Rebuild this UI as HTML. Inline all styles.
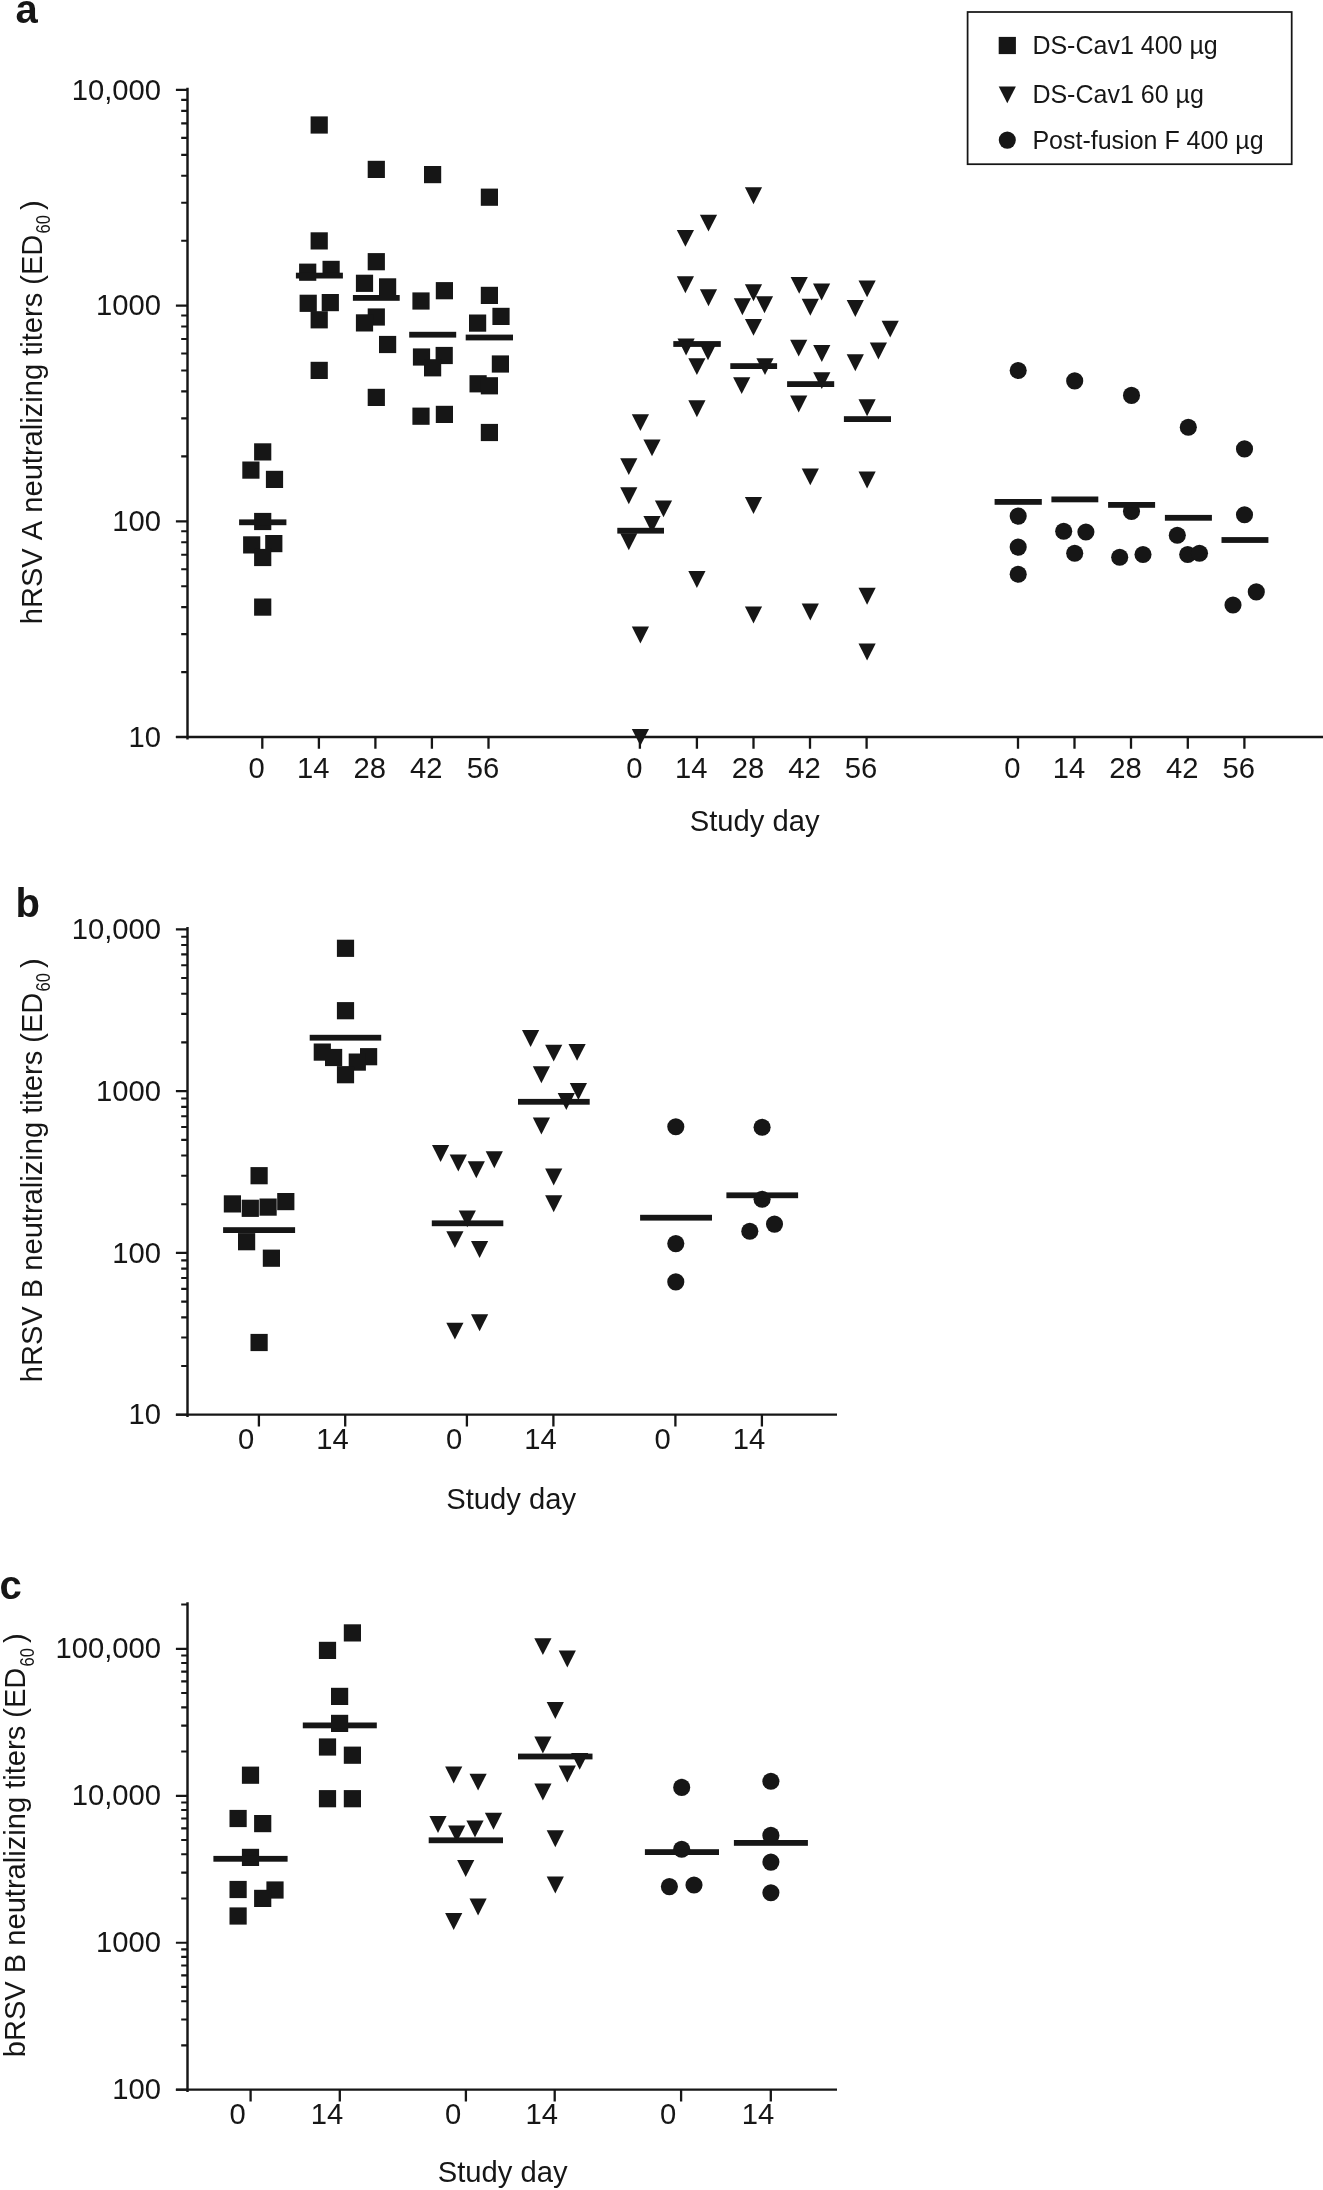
<!DOCTYPE html>
<html lang="en"><head><meta charset="utf-8"><title>Neutralizing titers</title>
<style>html,body{margin:0;padding:0;background:#fff}svg{display:block;will-change:transform;filter:grayscale(1)}text{white-space:pre}</style>
</head><body>
<svg width="1323" height="2190" viewBox="0 0 1323 2190">
<rect width="1323" height="2190" fill="#fff"/>
<g fill="#161616" font-family='"Liberation Sans", sans-serif' style="font-kerning:none">
<text x="15.5" y="23" font-size="40" font-weight="bold">a</text>
<text x="15.5" y="916.7" font-size="40" font-weight="bold">b</text>
<text x="-0.6" y="1599.2" font-size="40" font-weight="bold">c</text>
<rect x="967.6" y="12" width="324.1" height="152.2" fill="none" stroke="#161616" stroke-width="1.75"/>
<rect x="998.7" y="36.9" width="17.2" height="17.2"/>
<path d="M998.7 86.4H1015.9L1007.3 103.3Z"/>
<circle cx="1007.3" cy="140.1" r="8.55"/>
<text x="1032.4" y="53.9" font-size="25">DS-Cav1 400 µg</text>
<text x="1032.4" y="103.1" font-size="25">DS-Cav1 60 µg</text>
<text x="1032.4" y="148.5" font-size="25">Post-fusion F 400 µg</text>
<path d="M187.5 87.7V739.4" stroke="#161616" stroke-width="2.45" fill="none"/>
<path d="M175.9 89.9H187.5M181.2 240.7H187.5M181.2 202.7H187.5M181.2 175.7H187.5M181.2 154.8H187.5M181.2 137.8H187.5M181.2 123.3H187.5M181.2 110.8H187.5M181.2 99.8H187.5M175.9 305.6H187.5M181.2 456.4H187.5M181.2 418.4H187.5M181.2 391.4H187.5M181.2 370.5H187.5M181.2 353.5H187.5M181.2 339.0H187.5M181.2 326.5H187.5M181.2 315.5H187.5M175.9 521.3H187.5M181.2 672.1H187.5M181.2 634.1H187.5M181.2 607.1H187.5M181.2 586.2H187.5M181.2 569.2H187.5M181.2 554.7H187.5M181.2 542.2H187.5M181.2 531.2H187.5M175.9 737.0H187.5" stroke="#161616" stroke-width="2.15" fill="none"/>
<text x="161.0" y="99.5" text-anchor="end" font-size="29.2">10,000</text>
<text x="161.0" y="315.2" text-anchor="end" font-size="29.2">1000</text>
<text x="161.0" y="530.9" text-anchor="end" font-size="29.2">100</text>
<text x="161.0" y="746.6" text-anchor="end" font-size="29.2">10</text>
<path d="M175.9 737.0H1323" stroke="#161616" stroke-width="2.3" fill="none"/>
<path d="M262.3 737.0V748.8M318.9 737.0V748.8M375.4 737.0V748.8M431.9 737.0V748.8M488.5 737.0V748.8M639.9 737.0V748.8M696.9 737.0V748.8M753.5 737.0V748.8M810.0 737.0V748.8M866.6 737.0V748.8M1018.0 737.0V748.8M1074.5 737.0V748.8M1131.0 737.0V748.8M1187.8 737.0V748.8M1244.4 737.0V748.8" stroke="#161616" stroke-width="2.3" fill="none"/>
<text x="256.7" y="778.0" text-anchor="middle" font-size="29.2">0</text>
<text x="313.3" y="778.0" text-anchor="middle" font-size="29.2">14</text>
<text x="369.8" y="778.0" text-anchor="middle" font-size="29.2">28</text>
<text x="426.3" y="778.0" text-anchor="middle" font-size="29.2">42</text>
<text x="482.9" y="778.0" text-anchor="middle" font-size="29.2">56</text>
<text x="634.3" y="778.0" text-anchor="middle" font-size="29.2">0</text>
<text x="691.3" y="778.0" text-anchor="middle" font-size="29.2">14</text>
<text x="747.9" y="778.0" text-anchor="middle" font-size="29.2">28</text>
<text x="804.4" y="778.0" text-anchor="middle" font-size="29.2">42</text>
<text x="861.0" y="778.0" text-anchor="middle" font-size="29.2">56</text>
<text x="1012.4" y="778.0" text-anchor="middle" font-size="29.2">0</text>
<text x="1068.9" y="778.0" text-anchor="middle" font-size="29.2">14</text>
<text x="1125.4" y="778.0" text-anchor="middle" font-size="29.2">28</text>
<text x="1182.2" y="778.0" text-anchor="middle" font-size="29.2">42</text>
<text x="1238.8" y="778.0" text-anchor="middle" font-size="29.2">56</text>
<text x="754.6" y="830.8" text-anchor="middle" font-size="29.2">Study day</text>
<g transform="translate(41.6,624.3) rotate(-90)"><text x="0" y="0" font-size="29.1">hRSV A neutralizing titers (ED<tspan font-size="20.5" dx="1" dy="8.3" textLength="18.5" lengthAdjust="spacingAndGlyphs">60</tspan><tspan dx="5.2" dy="-8.3">)</tspan></text></g>
<rect x="254.1" y="443.3" width="17.2" height="17.2"/>
<rect x="242.3" y="461.5" width="17.2" height="17.2"/>
<rect x="265.9" y="470.8" width="17.2" height="17.2"/>
<rect x="254.1" y="512.9" width="17.2" height="17.2"/>
<rect x="243.1" y="536.3" width="17.2" height="17.2"/>
<rect x="265.2" y="535.0" width="17.2" height="17.2"/>
<rect x="254.1" y="548.9" width="17.2" height="17.2"/>
<rect x="254.1" y="598.5" width="17.2" height="17.2"/>
<rect x="310.6" y="116.4" width="17.2" height="17.2"/>
<rect x="310.6" y="232.3" width="17.2" height="17.2"/>
<rect x="299.1" y="263.6" width="17.2" height="17.2"/>
<rect x="322.5" y="260.8" width="17.2" height="17.2"/>
<rect x="299.6" y="294.7" width="17.2" height="17.2"/>
<rect x="321.7" y="294.0" width="17.2" height="17.2"/>
<rect x="310.6" y="311.2" width="17.2" height="17.2"/>
<rect x="310.6" y="361.8" width="17.2" height="17.2"/>
<rect x="367.7" y="160.8" width="17.2" height="17.2"/>
<rect x="367.7" y="253.1" width="17.2" height="17.2"/>
<rect x="355.9" y="274.7" width="17.2" height="17.2"/>
<rect x="379.0" y="278.3" width="17.2" height="17.2"/>
<rect x="367.7" y="308.4" width="17.2" height="17.2"/>
<rect x="355.9" y="314.3" width="17.2" height="17.2"/>
<rect x="379.0" y="335.9" width="17.2" height="17.2"/>
<rect x="367.7" y="388.8" width="17.2" height="17.2"/>
<rect x="424.0" y="166.0" width="17.2" height="17.2"/>
<rect x="435.8" y="282.1" width="17.2" height="17.2"/>
<rect x="412.4" y="292.4" width="17.2" height="17.2"/>
<rect x="412.9" y="348.4" width="17.2" height="17.2"/>
<rect x="435.6" y="346.9" width="17.2" height="17.2"/>
<rect x="424.0" y="359.2" width="17.2" height="17.2"/>
<rect x="412.4" y="407.6" width="17.2" height="17.2"/>
<rect x="435.8" y="405.8" width="17.2" height="17.2"/>
<rect x="480.8" y="188.6" width="17.2" height="17.2"/>
<rect x="480.8" y="286.8" width="17.2" height="17.2"/>
<rect x="492.4" y="307.8" width="17.2" height="17.2"/>
<rect x="469.0" y="314.5" width="17.2" height="17.2"/>
<rect x="491.8" y="355.4" width="17.2" height="17.2"/>
<rect x="469.5" y="375.2" width="17.2" height="17.2"/>
<rect x="480.8" y="377.2" width="17.2" height="17.2"/>
<rect x="480.8" y="423.9" width="17.2" height="17.2"/>
<rect x="239.1" y="519.4" width="47.3" height="5.8"/>
<rect x="295.9" y="272.7" width="47.0" height="5.8"/>
<rect x="352.9" y="295.0" width="46.8" height="5.8"/>
<rect x="409.2" y="331.8" width="47.0" height="5.8"/>
<rect x="465.7" y="334.6" width="47.3" height="5.8"/>
<path d="M631.8 414.2H649.0L640.4 431.1Z"/>
<path d="M643.4 439.4H660.6L652.0 456.3Z"/>
<path d="M620.2 458.2H637.4L628.8 475.1Z"/>
<path d="M620.2 487.3H637.4L628.8 504.2Z"/>
<path d="M654.9 500.4H672.1L663.5 517.3Z"/>
<path d="M643.4 516.1H660.6L652.0 533.0Z"/>
<path d="M620.2 533.3H637.4L628.8 550.2Z"/>
<path d="M631.8 626.6H649.0L640.4 643.5Z"/>
<path d="M631.8 728.9H649.0L640.4 745.8Z"/>
<path d="M699.9 214.7H717.1L708.5 231.6Z"/>
<path d="M676.8 229.9H694.0L685.4 246.8Z"/>
<path d="M676.8 276.3H694.0L685.4 293.2Z"/>
<path d="M699.9 289.3H717.1L708.5 306.2Z"/>
<path d="M677.5 338.6H694.7L686.1 355.5Z"/>
<path d="M699.4 343.3H716.6L708.0 360.2Z"/>
<path d="M688.3 358.2H705.5L696.9 375.1Z"/>
<path d="M688.3 400.3H705.5L696.9 417.2Z"/>
<path d="M688.3 571.1H705.5L696.9 588.0Z"/>
<path d="M744.9 187.3H762.1L753.5 204.2Z"/>
<path d="M744.9 284.3H762.1L753.5 301.2Z"/>
<path d="M733.8 298.3H751.0L742.4 315.2Z"/>
<path d="M755.9 296.3H773.1L764.5 313.2Z"/>
<path d="M744.9 318.9H762.1L753.5 335.8Z"/>
<path d="M756.4 358.2H773.6L765.0 375.1Z"/>
<path d="M733.1 377.2H750.3L741.7 394.1Z"/>
<path d="M744.9 497.1H762.1L753.5 514.0Z"/>
<path d="M744.9 606.5H762.1L753.5 623.4Z"/>
<path d="M790.6 276.9H807.8L799.2 293.8Z"/>
<path d="M813.0 283.6H830.2L821.6 300.5Z"/>
<path d="M801.7 298.8H818.9L810.3 315.7Z"/>
<path d="M790.1 339.7H807.3L798.7 356.6Z"/>
<path d="M813.2 345.0H830.4L821.8 361.9Z"/>
<path d="M813.2 372.2H830.4L821.8 389.1Z"/>
<path d="M790.1 395.5H807.3L798.7 412.4Z"/>
<path d="M801.7 468.4H818.9L810.3 485.3Z"/>
<path d="M801.7 603.6H818.9L810.3 620.5Z"/>
<path d="M858.5 280.4H875.7L867.1 297.3Z"/>
<path d="M846.7 300.0H863.9L855.3 316.9Z"/>
<path d="M881.6 320.7H898.8L890.2 337.6Z"/>
<path d="M869.8 342.5H887.0L878.4 359.4Z"/>
<path d="M846.7 354.3H863.9L855.3 371.2Z"/>
<path d="M858.5 399.3H875.7L867.1 416.2Z"/>
<path d="M858.5 471.6H875.7L867.1 488.5Z"/>
<path d="M858.5 587.8H875.7L867.1 604.7Z"/>
<path d="M858.5 643.6H875.7L867.1 660.5Z"/>
<rect x="617.3" y="527.8" width="46.7" height="5.8"/>
<rect x="673.3" y="341.1" width="47.5" height="5.8"/>
<rect x="730.3" y="363.2" width="46.8" height="5.8"/>
<rect x="787.1" y="381.2" width="47.1" height="5.8"/>
<rect x="843.9" y="416.2" width="47.1" height="5.8"/>
<circle cx="1018.2" cy="370.5" r="8.55"/>
<circle cx="1018.2" cy="516.1" r="8.55"/>
<circle cx="1018.2" cy="547.1" r="8.55"/>
<circle cx="1018.2" cy="574.3" r="8.55"/>
<circle cx="1074.7" cy="380.9" r="8.55"/>
<circle cx="1063.7" cy="531.2" r="8.55"/>
<circle cx="1085.9" cy="532.0" r="8.55"/>
<circle cx="1074.7" cy="553.2" r="8.55"/>
<circle cx="1131.5" cy="395.4" r="8.55"/>
<circle cx="1131.5" cy="511.5" r="8.55"/>
<circle cx="1119.7" cy="557.3" r="8.55"/>
<circle cx="1143.0" cy="554.5" r="8.55"/>
<circle cx="1188.3" cy="427.2" r="8.55"/>
<circle cx="1177.3" cy="535.3" r="8.55"/>
<circle cx="1187.7" cy="554.5" r="8.55"/>
<circle cx="1199.5" cy="553.2" r="8.55"/>
<circle cx="1244.5" cy="448.9" r="8.55"/>
<circle cx="1244.5" cy="514.8" r="8.55"/>
<circle cx="1256.3" cy="591.9" r="8.55"/>
<circle cx="1233.0" cy="605.0" r="8.55"/>
<rect x="994.6" y="499.0" width="47.2" height="5.8"/>
<rect x="1051.4" y="496.5" width="46.9" height="5.8"/>
<rect x="1108.1" y="502.0" width="47.0" height="5.8"/>
<rect x="1164.9" y="514.9" width="47.0" height="5.8"/>
<rect x="1221.5" y="537.1" width="46.9" height="5.8"/>
<path d="M187.5 927.1V1417.1" stroke="#161616" stroke-width="2.45" fill="none"/>
<path d="M175.9 929.3H187.5M181.2 1042.4H187.5M181.2 1013.9H187.5M181.2 993.7H187.5M181.2 978.0H187.5M181.2 965.2H187.5M181.2 954.4H187.5M181.2 945.0H187.5M181.2 936.7H187.5M175.9 1091.1H187.5M181.2 1204.2H187.5M181.2 1175.7H187.5M181.2 1155.5H187.5M181.2 1139.8H187.5M181.2 1127.0H187.5M181.2 1116.2H187.5M181.2 1106.8H187.5M181.2 1098.5H187.5M175.9 1252.9H187.5M181.2 1366.0H187.5M181.2 1337.5H187.5M181.2 1317.3H187.5M181.2 1301.6H187.5M181.2 1288.8H187.5M181.2 1278.0H187.5M181.2 1268.6H187.5M181.2 1260.3H187.5M175.9 1414.7H187.5" stroke="#161616" stroke-width="2.15" fill="none"/>
<text x="161.0" y="938.9" text-anchor="end" font-size="29.2">10,000</text>
<text x="161.0" y="1100.7" text-anchor="end" font-size="29.2">1000</text>
<text x="161.0" y="1262.5" text-anchor="end" font-size="29.2">100</text>
<text x="161.0" y="1424.3" text-anchor="end" font-size="29.2">10</text>
<path d="M175.9 1414.6H837" stroke="#161616" stroke-width="2.3" fill="none"/>
<path d="M258.9 1414.6V1426.4M345.2 1414.6V1426.4M466.9 1414.6V1426.4M553.4 1414.6V1426.4M675.4 1414.6V1426.4M761.9 1414.6V1426.4" stroke="#161616" stroke-width="2.3" fill="none"/>
<text x="246.1" y="1448.8" text-anchor="middle" font-size="29.2">0</text>
<text x="332.4" y="1448.8" text-anchor="middle" font-size="29.2">14</text>
<text x="454.1" y="1448.8" text-anchor="middle" font-size="29.2">0</text>
<text x="540.6" y="1448.8" text-anchor="middle" font-size="29.2">14</text>
<text x="662.6" y="1448.8" text-anchor="middle" font-size="29.2">0</text>
<text x="749.1" y="1448.8" text-anchor="middle" font-size="29.2">14</text>
<text x="511.2" y="1508.6" text-anchor="middle" font-size="29.2">Study day</text>
<g transform="translate(41.6,1382.3) rotate(-90)"><text x="0" y="0" font-size="29.1">hRSV B neutralizing titers (ED<tspan font-size="20.5" dx="1" dy="8.3" textLength="18.5" lengthAdjust="spacingAndGlyphs">60</tspan><tspan dx="5.2" dy="-8.3">)</tspan></text></g>
<rect x="250.5" y="1167.1" width="17.2" height="17.2"/>
<rect x="223.8" y="1195.3" width="17.2" height="17.2"/>
<rect x="241.7" y="1199.7" width="17.2" height="17.2"/>
<rect x="259.5" y="1198.5" width="17.2" height="17.2"/>
<rect x="277.2" y="1193.0" width="17.2" height="17.2"/>
<rect x="238.0" y="1233.1" width="17.2" height="17.2"/>
<rect x="262.8" y="1249.6" width="17.2" height="17.2"/>
<rect x="250.5" y="1333.9" width="17.2" height="17.2"/>
<rect x="336.9" y="939.7" width="17.2" height="17.2"/>
<rect x="336.9" y="1002.1" width="17.2" height="17.2"/>
<rect x="313.7" y="1043.5" width="17.2" height="17.2"/>
<rect x="325.0" y="1048.9" width="17.2" height="17.2"/>
<rect x="360.0" y="1048.1" width="17.2" height="17.2"/>
<rect x="348.7" y="1053.5" width="17.2" height="17.2"/>
<rect x="336.9" y="1066.1" width="17.2" height="17.2"/>
<rect x="223.1" y="1227.2" width="72.0" height="5.8"/>
<rect x="309.7" y="1034.8" width="71.5" height="5.8"/>
<path d="M432.0 1145.1H449.2L440.6 1162.0Z"/>
<path d="M449.7 1154.6H466.9L458.3 1171.5Z"/>
<path d="M467.7 1161.3H484.9L476.3 1178.2Z"/>
<path d="M485.7 1151.3H502.9L494.3 1168.2Z"/>
<path d="M458.7 1210.4H475.9L467.3 1227.3Z"/>
<path d="M446.3 1231.2H463.5L454.9 1248.1Z"/>
<path d="M471.0 1241.0H488.2L479.6 1257.9Z"/>
<path d="M471.0 1314.3H488.2L479.6 1331.2Z"/>
<path d="M446.3 1322.7H463.5L454.9 1339.6Z"/>
<path d="M522.0 1030.1H539.2L530.6 1047.0Z"/>
<path d="M545.1 1044.7H562.3L553.7 1061.6Z"/>
<path d="M568.5 1043.9H585.7L577.1 1060.8Z"/>
<path d="M532.8 1066.3H550.0L541.4 1083.2Z"/>
<path d="M569.8 1083.0H587.0L578.4 1099.9Z"/>
<path d="M557.7 1093.0H574.9L566.3 1109.9Z"/>
<path d="M532.8 1117.5H550.0L541.4 1134.4Z"/>
<path d="M545.1 1168.6H562.3L553.7 1185.5Z"/>
<path d="M545.1 1195.3H562.3L553.7 1212.2Z"/>
<rect x="431.8" y="1220.4" width="71.5" height="5.8"/>
<rect x="518.0" y="1098.9" width="71.7" height="5.8"/>
<circle cx="675.8" cy="1126.7" r="8.55"/>
<circle cx="675.8" cy="1243.6" r="8.55"/>
<circle cx="675.8" cy="1281.9" r="8.55"/>
<circle cx="762.1" cy="1127.2" r="8.55"/>
<circle cx="762.1" cy="1199.2" r="8.55"/>
<circle cx="774.5" cy="1224.1" r="8.55"/>
<circle cx="749.8" cy="1231.3" r="8.55"/>
<rect x="640.1" y="1214.8" width="71.9" height="5.8"/>
<rect x="726.4" y="1192.4" width="71.7" height="5.8"/>
<path d="M187.5 1602.3V2092.1" stroke="#161616" stroke-width="2.45" fill="none"/>
<path d="M175.9 1648.8H187.5M181.2 1751.5H187.5M181.2 1725.6H187.5M181.2 1707.3H187.5M181.2 1693.0H187.5M181.2 1681.4H187.5M181.2 1671.6H187.5M181.2 1663.0H187.5M181.2 1655.5H187.5M175.9 1795.8H187.5M181.2 1898.5H187.5M181.2 1872.6H187.5M181.2 1854.2H187.5M181.2 1840.0H187.5M181.2 1828.4H187.5M181.2 1818.5H187.5M181.2 1810.0H187.5M181.2 1802.5H187.5M175.9 1942.7H187.5M181.2 2045.4H187.5M181.2 2019.5H187.5M181.2 2001.2H187.5M181.2 1986.9H187.5M181.2 1975.3H187.5M181.2 1965.5H187.5M181.2 1956.9H187.5M181.2 1949.4H187.5M175.9 2089.7H187.5M181.2 1604.5H187.5" stroke="#161616" stroke-width="2.15" fill="none"/>
<text x="161.0" y="1658.4" text-anchor="end" font-size="29.2">100,000</text>
<text x="161.0" y="1805.3" text-anchor="end" font-size="29.2">10,000</text>
<text x="161.0" y="1952.3" text-anchor="end" font-size="29.2">1000</text>
<text x="161.0" y="2099.2" text-anchor="end" font-size="29.2">100</text>
<path d="M175.9 2089.7H837" stroke="#161616" stroke-width="2.3" fill="none"/>
<path d="M250.6 2089.7V2101.5M339.8 2089.7V2101.5M465.9 2089.7V2101.5M554.7 2089.7V2101.5M681.1 2089.7V2101.5M770.8 2089.7V2101.5" stroke="#161616" stroke-width="2.3" fill="none"/>
<text x="237.7" y="2123.5" text-anchor="middle" font-size="29.2">0</text>
<text x="326.9" y="2123.5" text-anchor="middle" font-size="29.2">14</text>
<text x="453.0" y="2123.5" text-anchor="middle" font-size="29.2">0</text>
<text x="541.8" y="2123.5" text-anchor="middle" font-size="29.2">14</text>
<text x="668.2" y="2123.5" text-anchor="middle" font-size="29.2">0</text>
<text x="757.9" y="2123.5" text-anchor="middle" font-size="29.2">14</text>
<text x="502.7" y="2182.0" text-anchor="middle" font-size="29.2">Study day</text>
<g transform="translate(25.3,2057.3) rotate(-90)"><text x="0" y="0" font-size="29.1">bRSV B neutralizing titers (ED<tspan font-size="20.5" dx="1" dy="8.3" textLength="18.5" lengthAdjust="spacingAndGlyphs">60</tspan><tspan dx="5.2" dy="-8.3">)</tspan></text></g>
<rect x="241.9" y="1766.6" width="17.2" height="17.2"/>
<rect x="229.5" y="1809.9" width="17.2" height="17.2"/>
<rect x="254.1" y="1815.0" width="17.2" height="17.2"/>
<rect x="241.9" y="1848.8" width="17.2" height="17.2"/>
<rect x="229.5" y="1880.9" width="17.2" height="17.2"/>
<rect x="266.4" y="1881.4" width="17.2" height="17.2"/>
<rect x="254.1" y="1889.8" width="17.2" height="17.2"/>
<rect x="229.5" y="1907.4" width="17.2" height="17.2"/>
<rect x="343.8" y="1624.3" width="17.2" height="17.2"/>
<rect x="318.9" y="1641.8" width="17.2" height="17.2"/>
<rect x="331.0" y="1687.8" width="17.2" height="17.2"/>
<rect x="331.0" y="1714.8" width="17.2" height="17.2"/>
<rect x="318.9" y="1738.4" width="17.2" height="17.2"/>
<rect x="343.8" y="1746.6" width="17.2" height="17.2"/>
<rect x="318.9" y="1790.1" width="17.2" height="17.2"/>
<rect x="343.8" y="1790.1" width="17.2" height="17.2"/>
<rect x="213.4" y="1855.9" width="74.2" height="5.8"/>
<rect x="302.8" y="1722.5" width="74.0" height="5.8"/>
<path d="M445.1 1766.5H462.3L453.7 1783.4Z"/>
<path d="M469.5 1773.7H486.7L478.1 1790.6Z"/>
<path d="M429.4 1816.1H446.6L438.0 1833.0Z"/>
<path d="M484.9 1812.8H502.1L493.5 1829.7Z"/>
<path d="M466.4 1820.5H483.6L475.0 1837.4Z"/>
<path d="M448.1 1825.4H465.3L456.7 1842.3Z"/>
<path d="M457.1 1860.1H474.3L465.7 1877.0Z"/>
<path d="M469.5 1898.6H486.7L478.1 1915.5Z"/>
<path d="M445.1 1913.1H462.3L453.7 1930.0Z"/>
<path d="M534.3 1638.2H551.5L542.9 1655.1Z"/>
<path d="M558.7 1650.5H575.9L567.3 1667.4Z"/>
<path d="M546.7 1702.0H563.9L555.3 1718.9Z"/>
<path d="M534.3 1736.5H551.5L542.9 1753.4Z"/>
<path d="M571.1 1752.9H588.3L579.7 1769.8Z"/>
<path d="M558.7 1765.6H575.9L567.3 1782.5Z"/>
<path d="M534.3 1783.5H551.5L542.9 1800.4Z"/>
<path d="M546.7 1830.3H563.9L555.3 1847.2Z"/>
<path d="M546.7 1876.5H563.9L555.3 1893.4Z"/>
<rect x="428.7" y="1837.4" width="74.3" height="5.8"/>
<rect x="518.0" y="1753.6" width="74.5" height="5.8"/>
<circle cx="681.7" cy="1787.4" r="8.55"/>
<circle cx="681.7" cy="1849.3" r="8.55"/>
<circle cx="669.4" cy="1886.6" r="8.55"/>
<circle cx="694.0" cy="1885.0" r="8.55"/>
<circle cx="770.9" cy="1781.2" r="8.55"/>
<circle cx="770.9" cy="1835.4" r="8.55"/>
<circle cx="770.9" cy="1862.1" r="8.55"/>
<circle cx="770.9" cy="1892.7" r="8.55"/>
<rect x="644.9" y="1849.2" width="74.1" height="5.8"/>
<rect x="733.9" y="1840.0" width="74.0" height="5.8"/>
</g>
</svg>
</body></html>
